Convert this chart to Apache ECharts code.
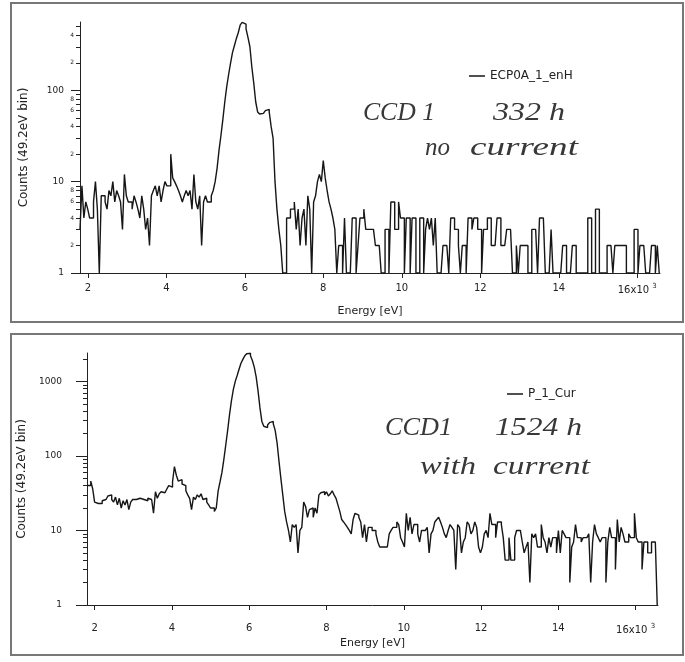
<!DOCTYPE html>
<html>
<head>
<meta charset="utf-8">
<script src="https://cdn.jsdelivr.net/npm/echarts@6/dist/echarts.min.js"></script>
<style>
  html, body { margin: 0; padding: 0; background: #ffffff; }
  #chart { width: 685px; height: 662px; }
</style>
</head>
<body>
<div id="chart"></div>
<script>
// Histogram binning (energies in keV, axis labelled in eV x10^3)
const BIN_START = 1.8;
const BIN_WIDTH = 0.0492;   // 49.2 eV bins
const ENERGY_TICKS = [2, 4, 6, 8, 10, 12, 14, 16];

// Upper panel: CCD 1, 332 h, no current (empty bins plotted at the axis floor, 1)
const TOP_NAME = 'ECP0A_1_enH';
const TOP_COUNTS = [
  3, 9, 4, 6, 5, 4, 4, 6, 10, 5,
  1, 7, 7, 6, 5, 8, 7, 10, 6, 8,
  7, 6, 3, 12, 7, 6, 6, 5, 7, 6,
  5, 4, 7, 5, 3, 4, 2, 7, 8, 9,
  7, 9, 6, 8, 10, 9, 9, 20, 11, 10,
  9, 8, 7, 6, 7, 8, 7, 8, 5, 12,
  6, 5, 7, 2, 6, 7, 6, 6, 7, 8,
  10, 14, 22, 32, 48, 75, 110, 150, 200, 260,
  310, 370, 430, 520, 555, 530, 470, 380, 300, 180,
  120, 75, 58, 55, 56, 58, 60, 62, 58, 40,
  30, 10, 5, 3, 2, 1, 1, 4, 4, 5,
  5, 6, 3, 5, 2, 4, 5, 2, 7, 5,
  1, 6, 7, 10, 12, 10, 17, 11, 8, 6,
  5, 4, 3, 1, 2, 2, 1, 4, 1, 1,
  1, 4, 4, 1, 2, 4, 4, 5, 3, 3,
  3, 3, 3, 2, 2, 2, 1, 1, 3, 3,
  1, 6, 6, 3, 3, 6, 4, 4, 1, 4,
  4, 1, 4, 4, 1, 1, 4, 4, 1, 3,
  4, 3, 4, 2, 4, 1, 1, 1, 2, 2,
  2, 1, 4, 4, 3, 3, 2, 1, 2, 2,
  1, 4, 4, 3, 4, 4, 3, 3, 1, 3,
  3, 4, 4, 2, 2, 2, 4, 4, 2, 2,
  2, 3, 3, 3, 1, 1, 2, 1, 2, 2,
  2, 2, 1, 1, 3, 3, 3, 1, 4, 4,
  4, 1, 1, 1, 3, 1, 1, 1, 1, 1,
  2, 2, 1, 1, 1, 2, 2, 1, 1, 1,
  1, 1, 1, 4, 4, 1, 1, 5, 5, 1,
  1, 1, 1, 2, 2, 2, 1, 2, 2, 2,
  2, 2, 2, 1, 1, 1, 1, 3, 3, 1,
  2, 2, 2, 1, 1, 1, 2, 2, 1, 2
];

// Lower panel: CCD 1, 1524 h, with current
const BOTTOM_NAME = 'P_1_Cur';
const BOTTOM_COUNTS = [
  40, 40, 46, 36, 24, 23, 24, 23, 25, 26,
  27, 29, 30, 26, 24, 28, 22, 27, 20, 25,
  22, 26, 19, 24, 26, 26, 25, 27, 26, 26,
  27, 25, 27, 26, 26, 17, 33, 27, 31, 33,
  32, 34, 36, 40, 38, 45, 72, 55, 46, 48,
  42, 40, 34, 30, 27, 19, 28, 26, 30, 28,
  31, 26, 27, 24, 22, 20, 20, 18, 20, 34,
  45, 60, 90, 140, 220, 360, 550, 780, 1000, 1200,
  1450, 1750, 1970, 2200, 2350, 2380, 2200, 1900, 1550, 1150,
  740, 440, 290, 250, 240, 260, 280, 290, 270, 220,
  150, 85, 50, 30, 18, 13, 10, 7, 12, 11,
  12, 5, 10, 11, 24, 21, 15, 19, 20, 15,
  20, 17, 30, 32, 33, 30, 33, 29, 31, 34,
  30, 27, 22, 18, 14, 13, 12, 11, 10, 9,
  14, 17, 16, 15, 13, 8, 12, 7, 11, 11,
  10, 10, 9, 7, 6, 6, 6, 6, 6, 9,
  10, 11, 11, 13, 12, 8, 7, 6, 17, 10,
  15, 9, 12, 12, 9, 7, 10, 10, 10, 11,
  5, 9, 10, 13, 14, 15, 13, 11, 9, 8,
  10, 12, 11, 10, 3, 12, 11, 5, 7, 8,
  13, 12, 9, 10, 13, 11, 6, 5, 6, 9,
  10, 8, 17, 12, 12, 8, 13, 13, 12, 8,
  4, 4, 8, 4, 4, 8, 10, 10, 10, 7,
  5, 6, 7, 2, 9, 8, 9, 6, 6, 12,
  8, 7, 5, 8, 6, 8, 8, 5, 10, 5,
  10, 9, 8, 8, 2, 6, 7, 12, 8, 8,
  7, 8, 8, 8, 9, 2, 7, 12, 9, 8,
  7, 8, 8, 2, 7, 11, 8, 8, 3, 14,
  7, 11, 9, 7, 7, 9, 8, 8, 17, 8,
  7, 7, 3, 7, 7, 5, 5, 7, 7, 7
];

// Log-axis tick values
const TOP_Y_MAJOR = [1, 10, 100];
const TOP_Y_MINOR = [2, 3, 4, 5, 6, 7, 8, 9, 20, 30, 40, 50, 60, 70, 80, 90, 200, 300, 400, 500];
const TOP_Y_MINOR_LABELS = [2, 4, 6, 8, 20, 40, 60, 80, 200, 400];
const BOTTOM_Y_MAJOR = [1, 10, 100, 1000];
const BOTTOM_Y_MINOR = [2, 3, 4, 5, 6, 7, 8, 9, 20, 30, 40, 50, 60, 70, 80, 90,
  200, 300, 400, 500, 600, 700, 800, 900, 2000];

// Turn bin counts into step-line vertices (left bin edges, closed at the floor)
function histogramPoints(counts) {
  const pts = counts.map((c, i) => [BIN_START + i * BIN_WIDTH, c]);
  pts.push([BIN_START + counts.length * BIN_WIDTH, 1]);
  return pts;
}

const FONT = 'DejaVu Sans';
const INK = '#222';
const TRACE = '#161616';

function energyAxis(gridIndex, labelMargin, nameGap) {
  return {
    gridIndex: gridIndex,
    type: 'value',
    min: 1.8,
    max: 16.58,
    name: 'Energy [eV]',
    nameLocation: 'middle',
    nameGap: nameGap,
    nameTextStyle: { fontFamily: FONT, fontSize: 11, color: INK },
    axisLine: { show: true, lineStyle: { color: INK, width: 1 } },
    axisTick: { show: true, customValues: ENERGY_TICKS, length: 5, lineStyle: { color: INK } },
    axisLabel: {
      customValues: ENERGY_TICKS,
      margin: labelMargin,
      fontFamily: FONT,
      fontSize: 10,
      color: INK,
      formatter: v => (v === 16 ? '16x10 {sup|3}' : String(v)),
      rich: { sup: { fontSize: 7, fontFamily: FONT, color: INK, verticalAlign: 'top', padding: [0, 0, 8, 0] } }
    },
    splitLine: { show: false }
  };
}

function countsAxis(gridIndex, max, major, nameGap, tickLen, labelMargin) {
  return {
    gridIndex: gridIndex,
    type: 'log',
    logBase: 10,
    min: 1,
    max: max,
    name: 'Counts (49.2eV bin)',
    nameLocation: 'middle',
    nameGap: nameGap,
    nameRotate: 90,
    nameTextStyle: { fontFamily: FONT, fontSize: 12, color: INK },
    axisLine: { show: true, lineStyle: { color: INK, width: 1 } },
    axisTick: { show: true, customValues: major, length: tickLen, lineStyle: { color: INK } },
    axisLabel: {
      customValues: major, margin: labelMargin, fontFamily: FONT, fontSize: 9, color: INK,
      formatter: v => String(v)
    },
    splitLine: { show: false }
  };
}

function minorCountsAxis(gridIndex, max, minor, labels) {
  return {
    gridIndex: gridIndex,
    type: 'log',
    logBase: 10,
    min: 1,
    max: max,
    position: 'left',
    axisLine: { show: false },
    axisTick: { show: true, customValues: minor, length: 4, lineStyle: { color: INK } },
    axisLabel: {
      show: labels.length > 0,
      customValues: labels,
      margin: 6,
      fontFamily: FONT,
      fontSize: 6,
      color: INK,
      formatter: v => String(v).charAt(0)
    },
    splitLine: { show: false }
  };
}

// Handwritten notes: each word stretched horizontally to its written width
const HAND_FONT = 'italic 25px "Liberation Serif"';
const measureCtx = document.createElement('canvas').getContext('2d');
measureCtx.font = HAND_FONT;
function handNote(text, x, yMid, width) {
  const natural = measureCtx.measureText(text).width;
  return {
    type: 'text',
    x: x,
    y: yMid,
    scaleX: width / natural,
    style: {
      text: text,
      font: HAND_FONT,
      fill: '#383838',
      verticalAlign: 'middle'
    }
  };
}

const chart = echarts.init(document.getElementById('chart'), null, { renderer: 'canvas' });

chart.setOption({
  animation: false,
  backgroundColor: '#ffffff',
  grid: [
    { left: 80, right: 25, top: 22, bottom: 389 },
    { left: 87, right: 27, top: 353, bottom: 57 }
  ],
  xAxis: [energyAxis(0, 10, 33), energyAxis(1, 18, 33)],
  yAxis: [
    countsAxis(0, 560, TOP_Y_MAJOR, 50, 9, 16),
    minorCountsAxis(0, 560, TOP_Y_MINOR, TOP_Y_MINOR_LABELS),
    countsAxis(1, 2400, BOTTOM_Y_MAJOR, 57, 11, 25),
    minorCountsAxis(1, 2400, BOTTOM_Y_MINOR, [])
  ],
  legend: [
    {
      data: [TOP_NAME], left: 464, top: 65, icon: 'rect', itemWidth: 16, itemHeight: 1.5,
      textStyle: { fontFamily: FONT, fontSize: 12, color: INK }
    },
    {
      data: [BOTTOM_NAME], left: 502, top: 383, icon: 'rect', itemWidth: 16, itemHeight: 1.5,
      textStyle: { fontFamily: FONT, fontSize: 12, color: INK }
    }
  ],
  series: [
    {
      name: TOP_NAME, type: 'line', step: 'end', xAxisIndex: 0, yAxisIndex: 0,
      data: histogramPoints(TOP_COUNTS), showSymbol: false, symbol: 'none',
      lineStyle: { color: TRACE, width: 1.4 }, itemStyle: { color: TRACE }
    },
    {
      name: BOTTOM_NAME, type: 'line', step: 'end', xAxisIndex: 1, yAxisIndex: 2,
      data: histogramPoints(BOTTOM_COUNTS), showSymbol: false, symbol: 'none',
      lineStyle: { color: TRACE, width: 1.4 }, itemStyle: { color: TRACE }
    }
  ],
  graphic: [
    { type: 'rect', shape: { x: 11, y: 3, width: 672, height: 319 }, style: { fill: null, stroke: '#777', lineWidth: 2 } },
    { type: 'rect', shape: { x: 11, y: 334, width: 672, height: 321 }, style: { fill: null, stroke: '#777', lineWidth: 2 } },
    handNote('CCD 1', 363, 113, 72),
    handNote('332 h', 493, 113, 72),
    handNote('no', 425, 148, 25),
    handNote('current', 470, 148, 108),
    handNote('CCD1', 385, 428, 67),
    handNote('1524 h', 495, 428, 87),
    handNote('with', 420, 467, 56),
    handNote('current', 493, 467, 97)
  ]
});
</script>
</body>
</html>
